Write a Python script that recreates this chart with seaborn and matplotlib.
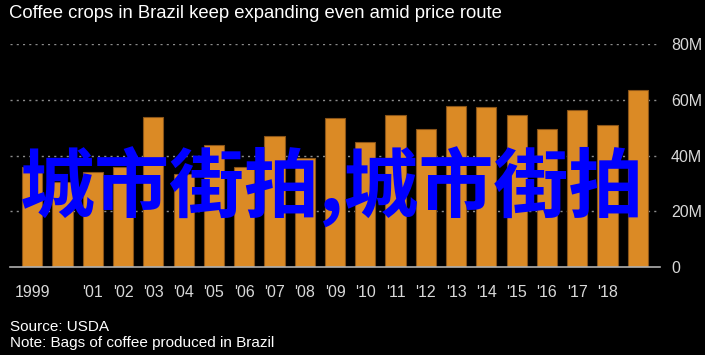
import numpy as np
import pandas as pd
import matplotlib
matplotlib.use("Agg")
import matplotlib.pyplot as plt
import seaborn as sns

# bags of coffee produced in Brazil (millions)
years = [str(y) for y in range(1999, 2020)]
bags_m = [35.8, 30.6, 34.1, 36.0, 53.7, 33.2, 43.6, 36.0, 46.9, 39.2, 53.3,
          44.8, 54.5, 49.4, 57.6, 57.3, 54.5, 49.4, 56.2, 50.8, 63.4]
tick_years = ["1999"] + [str(y) for y in range(2001, 2019)]
tick_labels = ["1999"] + ["'%02d" % (y % 100) for y in range(2001, 2019)]
y_ticks = [0, 20, 40, 60, 80]
y_labels = ["0", "20M", "40M", "60M", "80M"]

df = pd.DataFrame({"year": years, "bags": bags_m})

sns.set_style("dark")
plt.rcParams["font.family"] = ["Liberation Sans", "DejaVu Sans"]

fig = plt.figure(figsize=(7.05, 3.55), dpi=100, facecolor="black")
ax = fig.add_axes([10 / 705, (355 - 267) / 355, 650 / 705, (267 - 44) / 355])
ax.set_facecolor("black")

sns.barplot(data=df, x="year", y="bags", order=years, color="#DB8A25",
            saturation=1, width=0.667, edgecolor="#8a5418", linewidth=0.8, ax=ax)

ax.set_xlim(-22 / 30, len(years) - 1 + 22 / 30)
ax.set_ylim(0, 80)

pos = [years.index(y) for y in tick_years]
ax.set_xticks(pos)
ax.set_xticklabels(tick_labels, fontsize=11.5, color="#d8d8d8")
ax.tick_params(axis="x", length=5, width=1, color="#9a9a9a", pad=8)

ax.yaxis.tick_right()
ax.set_yticks(y_ticks)
ax.set_yticklabels(y_labels, fontsize=11.5, color="#d8d8d8")
ax.tick_params(axis="y", length=0, pad=8)

ax.grid(False)
for v in y_ticks[1:]:
    ax.axhline(v, color="#8c8c8c", linestyle=(0, (1.5, 3)), linewidth=1, zorder=0)
for s in ["top", "left", "right"]:
    ax.spines[s].set_visible(False)
ax.spines["bottom"].set_color("#b0b0b0")
ax.spines["bottom"].set_linewidth(1.2)
ax.set_xlabel("")
ax.set_ylabel("")

fig.text(9 / 705, 1 - 13 / 355, "Coffee crops in Brazil keep expanding even amid price route",
         fontsize=13.3, color="white", va="center", ha="left")
fig.text(10 / 705, 1 - 327 / 355, "Source: USDA", fontsize=11, color="white", va="center")
fig.text(10 / 705, 1 - 343 / 355, "Note: Bags of coffee produced in Brazil", fontsize=11,
         color="white", va="center")

# watermark overlay
fig.text(20 / 705, 1 - 187 / 355, "城市街拍,城市街拍", fontsize=54, color="#0000ff",
         fontweight="bold", family=["Noto Sans CJK SC", "DejaVu Sans"], va="center", ha="left")

fig.savefig("out.png", dpi=100, facecolor="black")
